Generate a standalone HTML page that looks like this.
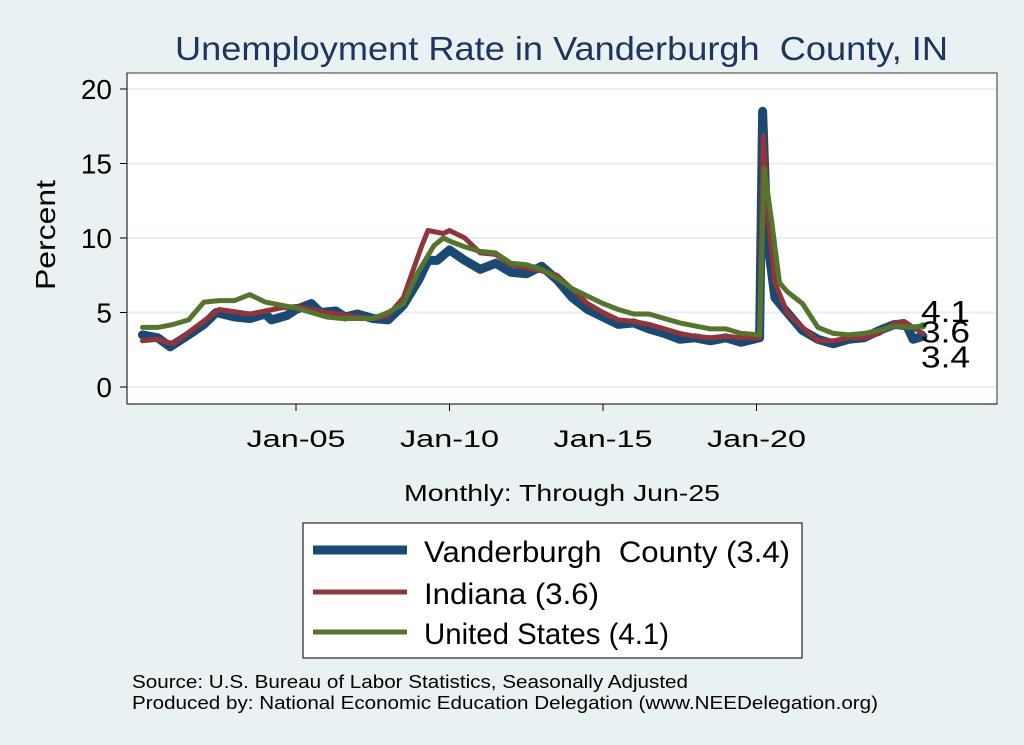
<!DOCTYPE html>
<html><head><meta charset="utf-8"><style>
body{margin:0;background:#eaf1f3;}
svg{display:block;font-family:"Liberation Sans",Arial,sans-serif;}
</style></head><body>
<svg id="chart" width="1024" height="745" viewBox="0 0 1024 745">
<rect x="0" y="0" width="1024" height="745" fill="#eaf1f3"/>
<text x="175" y="60" font-size="33" fill="#1e3560" textLength="773" lengthAdjust="spacingAndGlyphs" xml:space="preserve">Unemployment Rate in Vanderburgh  County, IN</text>
<rect x="127" y="73" width="870" height="331" fill="#ffffff" stroke="#333" stroke-width="1"/>
<g id="grid"></g>
<g id="yaxis"></g>
<g id="xaxis"></g>
<g id="series"></g>
<g id="endlabels"></g>
<text x="55" y="235" font-size="28" fill="#000" text-anchor="middle" textLength="110" lengthAdjust="spacingAndGlyphs" transform="rotate(-90 55 235)">Percent</text>
<text x="404" y="501" font-size="23" fill="#000" textLength="316" lengthAdjust="spacingAndGlyphs">Monthly: Through Jun-25</text>
<g>
<rect x="303" y="523" width="499" height="135" fill="#fff" stroke="#222" stroke-width="1.2"/>
<line x1="313" y1="550" x2="407" y2="550" stroke="#1a4a72" stroke-width="9"/>
<text x="424" y="562" font-size="30" textLength="366" lengthAdjust="spacingAndGlyphs" xml:space="preserve">Vanderburgh  County (3.4)</text>
<line x1="313" y1="592" x2="407" y2="592" stroke="#90353b" stroke-width="5"/>
<text x="424" y="604" font-size="30" textLength="175" lengthAdjust="spacingAndGlyphs">Indiana (3.6)</text>
<line x1="313" y1="632" x2="407" y2="632" stroke="#55752f" stroke-width="5"/>
<text x="424" y="644" font-size="30" textLength="245" lengthAdjust="spacingAndGlyphs">United States (4.1)</text>
</g>
<text x="132" y="688" font-size="18.5" textLength="556" lengthAdjust="spacingAndGlyphs">Source: U.S. Bureau of Labor Statistics, Seasonally Adjusted</text>
<text x="132" y="709" font-size="18.5" textLength="746" lengthAdjust="spacingAndGlyphs">Produced by: National Economic Education Delegation (www.NEEDelegation.org)</text>
</svg>
<script>
const yTicks=[0,5,10,15,20];
const xTickYears=[2005,2010,2015,2020];
const xTickLabels=["Jan-05","Jan-10","Jan-15","Jan-20"];
const vandDates=[2000,2000.5,2000.9,2001.5,2002,2002.4,2003,2003.5,2004,2004.2,2004.7,2005,2005.5,2005.8,2006.3,2006.6,2007,2007.5,2008,2008.5,2009,2009.3,2009.6,2010,2010.5,2011,2011.5,2012,2012.5,2013,2013.5,2014,2014.5,2015,2015.5,2016,2016.5,2017,2017.5,2018,2018.5,2019,2019.5,2020.1,2020.2,2020.35,2020.6,2021,2021.5,2022,2022.5,2023,2023.5,2024,2024.5,2024.9,2025.1,2025.42];
const vandValues=[3.5,3.3,2.7,3.5,4.2,5.0,4.7,4.6,4.9,4.5,4.8,5.2,5.6,5.0,5.1,4.7,4.9,4.6,4.5,5.5,7.2,8.5,8.5,9.2,8.5,7.9,8.3,7.7,7.6,8.1,7.2,6.0,5.2,4.7,4.2,4.3,3.9,3.6,3.2,3.3,3.1,3.3,3.0,3.3,18.5,10.0,6.0,5.0,3.8,3.2,2.9,3.2,3.3,3.8,4.2,4.1,3.2,3.4];
const indDates=[2000,2000.5,2001,2002.5,2003.5,2004.5,2005,2006,2007,2007.5,2008,2008.5,2009.1,2009.3,2009.8,2010,2010.5,2011,2011.5,2012,2012.5,2013,2013.5,2014.3,2014.5,2015,2015.5,2016,2016.5,2017.5,2018,2018.5,2019,2019.5,2020.1,2020.22,2020.4,2020.6,2021,2021.5,2022,2022.5,2023,2023.5,2024,2024.5,2024.8,2025.1,2025.42];
const indValues=[3.1,3.2,2.9,5.2,4.9,5.3,5.4,5.0,4.7,4.6,4.8,6.0,9.5,10.5,10.3,10.5,10.0,9.0,8.9,8.2,8.0,7.8,7.5,6.0,5.6,5.0,4.5,4.4,4.2,3.6,3.4,3.3,3.4,3.3,3.3,16.9,11.0,7.0,5.0,4.0,3.1,3.1,3.3,3.3,3.6,4.3,4.4,4.0,3.6];
const usDates=[2000,2000.5,2001,2001.5,2002,2002.5,2003,2003.5,2004,2004.5,2005,2005.5,2006,2006.5,2007,2007.5,2008,2008.5,2009,2009.5,2009.8,2010,2010.5,2011,2011.5,2012,2012.5,2013,2013.5,2014,2014.5,2015,2015.5,2016,2016.5,2017,2017.5,2018,2018.5,2019,2019.5,2020.1,2020.25,2020.5,2020.75,2021,2021.5,2022,2022.5,2023,2023.5,2024,2024.5,2025,2025.42];
const usValues=[4.0,4.0,4.2,4.5,5.7,5.8,5.8,6.2,5.7,5.5,5.3,5.0,4.7,4.6,4.6,4.6,5.0,5.6,7.8,9.5,10.0,9.8,9.4,9.1,9.0,8.3,8.2,7.9,7.3,6.6,6.1,5.6,5.2,4.9,4.9,4.6,4.3,4.1,3.9,3.9,3.6,3.5,14.7,11.0,7.0,6.4,5.6,4.0,3.6,3.5,3.6,3.8,4.1,4.0,4.1];
const endValues=[4.1,3.6,3.4];

const NS="http://www.w3.org/2000/svg";
function X(t){return 142.5+(t-2000)*30.7;}
function Y(v){return 387-v*14.9;}
function mk(tag,attrs,parent){const e=document.createElementNS(NS,tag);for(const k in attrs)e.setAttribute(k,attrs[k]);parent.appendChild(e);return e;}
const grid=document.getElementById('grid'),ya=document.getElementById('yaxis'),xa=document.getElementById('xaxis');
mk('line',{x1:127,y1:73,x2:127,y2:404,stroke:'#000','stroke-width':1},ya);
mk('line',{x1:127,y1:404,x2:997,y2:404,stroke:'#000','stroke-width':1},xa);
yTicks.forEach(v=>{
  const g=mk('line',{x1:128,x2:996,y1:Y(v),y2:Y(v),stroke:'#e8eff2','stroke-width':2},grid);
  
  
  mk('line',{x1:120,x2:127,y1:Y(v),y2:Y(v),stroke:'#000'},ya);
  const t=mk('text',{x:112,y:Y(v)+10,'font-size':28,'text-anchor':'end'},ya);
  t.textContent=v;
  
  
});
xTickYears.forEach((yr,i)=>{
  mk('line',{x1:X(yr),x2:X(yr),y1:404,y2:411,stroke:'#000'},xa);
  const t=mk('text',{x:X(yr),y:447,'font-size':24,'text-anchor':'middle',textLength:99,lengthAdjust:'spacingAndGlyphs'},xa);
  t.textContent=xTickLabels[i];
  
  
});
const ser=document.getElementById('series');
function line(d,v,color,w,name){
  const pts=d.map((t,i)=>X(t).toFixed(1)+','+Y(v[i]).toFixed(1)).join(' ');
  const p=mk('polyline',{points:pts,fill:'none',stroke:color,'stroke-width':w,'stroke-linejoin':'round','stroke-linecap':'round'},ser);
  
  
}
line(vandDates,vandValues,'#1a4a72',9,'line-vanderburgh');
line(indDates,indValues,'#90353b',5,'line-indiana');
line(usDates,usValues,'#55752f',5,'line-us');
const dot=mk('circle',{cx:X(usDates[usDates.length-1]),cy:Y(usValues[usValues.length-1]),r:3.5,fill:'#1a8a1a'},ser);


const el=document.getElementById('endlabels');
const labY=[Y(endValues[0])-4,Y(endValues[1])+9,Y(endValues[2])+31];
endValues.forEach((v,i)=>{
  const t=mk('text',{x:921,y:labY[i],'font-size':31,textLength:49,lengthAdjust:'spacingAndGlyphs'},el);
  t.textContent=v.toFixed(1);
  
  
});
</script>
</body></html>
